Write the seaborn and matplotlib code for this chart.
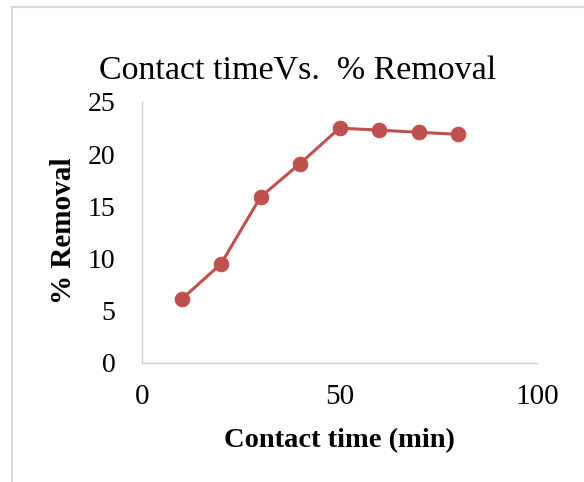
import pandas as pd
import matplotlib.pyplot as plt
import seaborn as sns
from matplotlib.patches import Rectangle

# values
contact_time = [10, 20, 30, 40, 50, 60, 70, 80]
removal = [6.1, 9.5, 15.9, 19.1, 22.5, 22.3, 22.1, 21.9]
x_ticks = [0, 50, 100]
y_ticks = [0, 5, 10, 15, 20, 25]

df = pd.DataFrame({'Contact time (min)': contact_time, '% Removal': removal})

sns.set_style('white')
plt.rcParams['font.family'] = ['Liberation Serif', 'DejaVu Serif']
plt.rcParams['text.color'] = 'black'
plt.rcParams['axes.labelcolor'] = 'black'

fig = plt.figure(figsize=(5.84, 4.82), dpi=100)
ax = fig.add_axes([0.2432, 0.2469, 0.6764, 0.5415])

# chart frame like the office chart border
fig.patches.append(Rectangle((12 / 584, -0.1), 1.2, 1 - 7 / 482 + 0.1,
                             transform=fig.transFigure, fill=False,
                             edgecolor='#d9d9d9', linewidth=1.5))

sns.lineplot(data=df, x='Contact time (min)', y='% Removal', ax=ax,
             color='#c0504d', linewidth=2.2, marker='o', markersize=10.5,
             markeredgecolor='#c0504d')

ax.set_xlim(0, 100)
ax.set_ylim(0, 25)
ax.set_xticks(x_ticks)
ax.set_yticks(y_ticks)
ax.tick_params(axis='both', length=0, colors='black')
ax.tick_params(axis='x', labelsize=21, pad=15)
ax.tick_params(axis='y', labelsize=20, pad=19)

for side in ['top', 'right']:
    ax.spines[side].set_visible(False)
for side in ['left', 'bottom']:
    ax.spines[side].set_color('#d0d0d0')
    ax.spines[side].set_linewidth(1.0)

ax.set_xlabel('Contact time (min)', fontsize=20.5, fontweight='bold')
ax.set_ylabel('% Removal', fontsize=21, fontweight='bold')
ax.xaxis.set_label_coords(0.5, -0.298)
ax.xaxis.label.set_va('center')
ax.yaxis.set_label_coords(-0.2, 0.506)
ax.yaxis.label.set_va('center')

fig.text(298 / 584, 1 - 80 / 482, 'Contact timeVs.  % Removal',
         ha='center', va='baseline', fontsize=24.5, color='black')

fig.savefig('out.png', dpi=100)
